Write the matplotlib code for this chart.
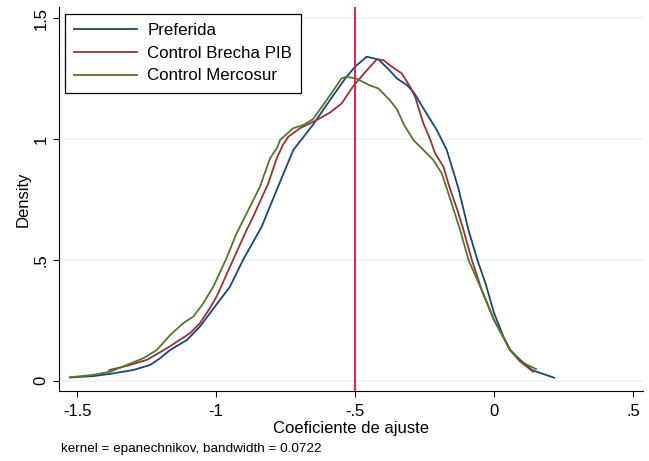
import matplotlib
matplotlib.use("Agg")
import matplotlib.pyplot as plt

plt.rcParams["font.family"] = ["Liberation Sans", "DejaVu Sans"]

# kernel density estimates of the adjustment coefficient, one per specification
pref_x = [-1.525, -1.44, -1.381, -1.298, -1.237, -1.201, -1.165, -1.105, -1.058, -1.022,
          -0.950, -0.902, -0.836, -0.782, -0.722, -0.651, -0.590, -0.536, -0.500, -0.458,
          -0.416, -0.380, -0.350, -0.314, -0.290, -0.254, -0.206, -0.170, -0.128, -0.092,
          -0.060, -0.030, 0.000, 0.034, 0.058, 0.094, 0.136, 0.216]
pref_y = [0.013, 0.019, 0.028, 0.044, 0.065, 0.093, 0.127, 0.168, 0.224, 0.279,
          0.389, 0.502, 0.637, 0.789, 0.955, 1.060, 1.162, 1.250, 1.300, 1.341,
          1.330, 1.290, 1.252, 1.224, 1.196, 1.127, 1.038, 0.955, 0.796, 0.624,
          0.500, 0.400, 0.280, 0.182, 0.127, 0.086, 0.044, 0.012]

pib_x = [-1.384, -1.321, -1.249, -1.177, -1.141, -1.094, -1.058, -1.022, -0.998, -0.938,
         -0.890, -0.872, -0.812, -0.782, -0.760, -0.740, -0.698, -0.638, -0.590, -0.548,
         -0.506, -0.470, -0.446, -0.422, -0.398, -0.368, -0.332, -0.302, -0.284, -0.254,
         -0.230, -0.212, -0.182, -0.160, -0.130, -0.110, -0.080, -0.044, 0.000, 0.058,
         0.094, 0.141]
pib_y = [0.044, 0.061, 0.086, 0.134, 0.161, 0.196, 0.238, 0.300, 0.348, 0.502,
         0.624, 0.665, 0.817, 0.920, 0.975, 1.010, 1.045, 1.079, 1.110, 1.148,
         1.220, 1.268, 1.300, 1.330, 1.327, 1.300, 1.272, 1.217, 1.175, 1.065,
         1.000, 0.941, 0.886, 0.800, 0.700, 0.624, 0.500, 0.374, 0.251, 0.127,
         0.079, 0.037]

merc_x = [-1.525, -1.441, -1.381, -1.321, -1.261, -1.213, -1.165, -1.118, -1.082, -1.046,
          -1.010, -0.965, -0.926, -0.902, -0.842, -0.806, -0.780, -0.770, -0.723, -0.687,
          -0.651, -0.602, -0.548, -0.530, -0.494, -0.446, -0.416, -0.374, -0.350, -0.323,
          -0.290, -0.254, -0.218, -0.188, -0.170, -0.122, -0.092, -0.044, 0.000, 0.058,
          0.094, 0.151]
merc_y = [0.014, 0.024, 0.037, 0.065, 0.093, 0.127, 0.189, 0.238, 0.265, 0.320,
          0.389, 0.500, 0.610, 0.665, 0.803, 0.920, 0.965, 0.996, 1.045, 1.058,
          1.083, 1.162, 1.252, 1.258, 1.250, 1.222, 1.210, 1.160, 1.125, 1.058,
          0.996, 0.955, 0.913, 0.858, 0.796, 0.624, 0.500, 0.374, 0.251, 0.127,
          0.079, 0.048]

ref_coef = -0.5
x_ticks = [-1.5, -1, -0.5, 0, 0.5]
x_labels = ["-1.5", "-1", "-.5", "0", ".5"]
y_ticks = [0, 0.5, 1, 1.5]
y_labels = ["0", ".5", "1", "1.5"]

fig = plt.figure(figsize=(6.49, 4.61), dpi=100)
ax = fig.add_axes([0.0909, 0.1518, 0.8999, 0.833])

for y in y_ticks:
    ax.axhline(y, color="#eaf2f3", lw=1.1, zorder=0)

ax.plot(pref_x, pref_y, color="#1a476f", lw=1.3, label="Preferida")
ax.plot(pib_x, pib_y, color="#90353b", lw=1.3, label="Control Brecha PIB")
ax.plot(merc_x, merc_y, color="#55752f", lw=1.3, label="Control Mercosur")
ax.axvline(ref_coef, color="#dc143c", lw=1.3, zorder=3)

ax.set_xlim(-1.565, 0.536)
ax.set_ylim(-0.043, 1.547)
ax.set_xticks(x_ticks)
ax.set_xticklabels(x_labels)
ax.set_yticks(y_ticks)
ax.set_yticklabels(y_labels, rotation=90, va="center")
ax.tick_params(direction="out", length=4.5, width=0.8, labelsize=12, color="black")
ax.tick_params(axis="x", pad=5)
ax.tick_params(axis="y", pad=3)

for side in ("top", "right"):
    ax.spines[side].set_visible(False)
for side in ("left", "bottom"):
    ax.spines[side].set_linewidth(0.8)

ax.set_xlabel("Coeficiente de ajuste", fontsize=12, labelpad=1)
ax.set_ylabel("Density", fontsize=12, labelpad=2)

leg = ax.legend(loc="upper left", bbox_to_anchor=(0.0103, 0.982), borderaxespad=0,
                fontsize=12.2, frameon=True, fancybox=False, edgecolor="black",
                framealpha=1, handlelength=3.7, handletextpad=0.6, borderpad=0.55,
                labelspacing=0.45)
leg.get_frame().set_linewidth(0.9)

fig.text(61 / 649, 1 - 449 / 461, "kernel = epanechnikov, bandwidth = 0.0722",
         fontsize=9.7, va="center", ha="left")

fig.savefig("out.png", dpi=100)
